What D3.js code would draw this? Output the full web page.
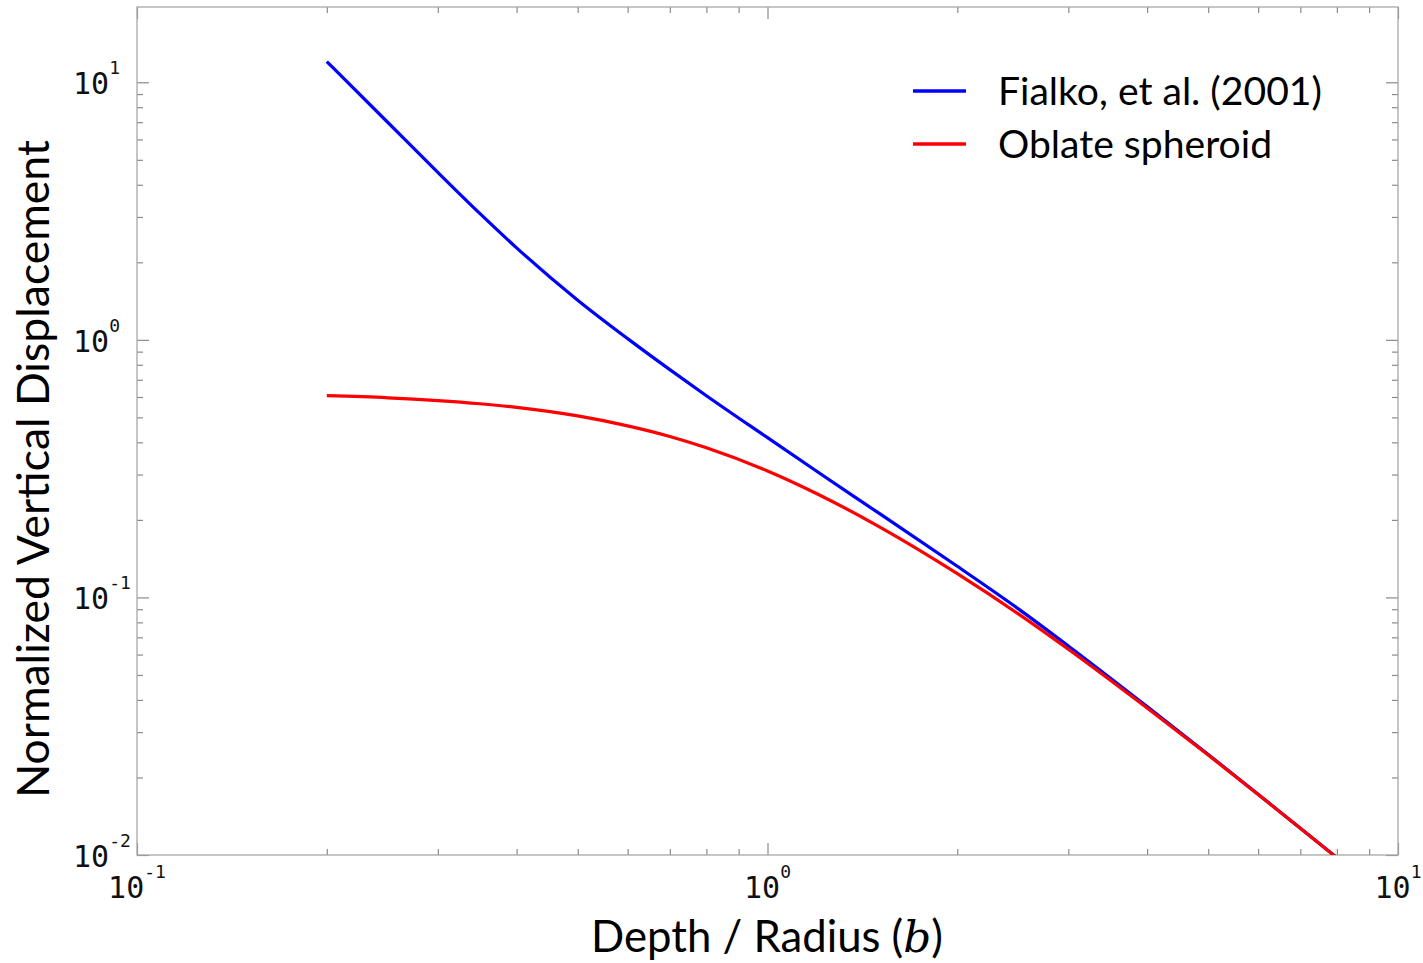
<!DOCTYPE html>
<html>
<head>
<meta charset="utf-8">
<script src="https://cdn.jsdelivr.net/npm/d3@7"></script>
<style>
  body { margin: 0; background: #fff; }
  svg { display: block; }
</style>
</head>
<body>
<svg id="chart" width="1423" height="963"></svg>
<script>
// Depth / radius ratio (b)
const depth  = [0.2, 0.25, 0.3, 0.35, 0.4, 0.5, 0.6, 0.7, 0.8, 1.0, 1.2, 1.5, 2, 2.5, 3, 4, 5, 6, 7, 8];
// Normalized vertical displacement, Fialko et al. (2001) solution
const fialko = [12.04, 6.98, 4.47, 3.09, 2.276, 1.426, 1.011, 0.766, 0.607, 0.417, 0.3075, 0.2128,
                0.1321, 0.0903, 0.0648, 0.0377, 0.02457, 0.01722, 0.01271, 0.00977];
// Normalized vertical displacement, oblate spheroid source
const oblate = [0.6071, 0.5958, 0.5811, 0.5648, 0.5469, 0.5066, 0.4636, 0.4217, 0.3812, 0.3098, 0.2522,
                0.1888, 0.1237, 0.0863, 0.0629, 0.0372, 0.02444, 0.01718, 0.01270, 0.00975];

const seriesNames  = ["Fialko, et al. (2001)", "Oblate spheroid"];
const seriesColors = ["#0000ff", "#ff0000"];

const xDomain = [0.1, 10];
const yDomain = [0.01, 19.6];
const xTickExponents = [-1, 0, 1];
const yTickExponents = [-2, -1, 0, 1];

const svg = d3.select("#chart");
const plot = { left: 137, right: 1398, top: 7, bottom: 855 };

const x = d3.scaleLog().domain(xDomain).range([plot.left, plot.right]);
const y = d3.scaleLog().domain(yDomain).range([plot.bottom, plot.top]);

const isMajor = v => Math.abs(Math.log10(v) - Math.round(Math.log10(v))) < 1e-9;
const xTicks = x.ticks();
const yTicks = y.ticks().filter(v => v <= yDomain[1]);
const xMajor = xTicks.filter(isMajor), xMinor = xTicks.filter(v => !isMajor(v));
const yMajor = yTicks.filter(isMajor), yMinor = yTicks.filter(v => !isMajor(v));

const tickColor = "#8a8a8a";
const MAJOR = 12, MINOR = 6;

// inward-pointing ticks on all four sides
function drawAxis(axisFn, scale, values, len, transform) {
  const g = svg.append("g")
    .attr("transform", transform)
    .call(axisFn(scale).tickValues(values).tickSize(-len).tickFormat(""));
  g.select(".domain").remove();
  g.selectAll(".tick line").attr("stroke", tickColor).attr("stroke-width", 1.2);
}
drawAxis(d3.axisBottom, x, xMajor, MAJOR, `translate(0,${plot.bottom})`);
drawAxis(d3.axisBottom, x, xMinor, MINOR, `translate(0,${plot.bottom})`);
drawAxis(d3.axisTop, x, xMajor, MAJOR, `translate(0,${plot.top})`);
drawAxis(d3.axisTop, x, xMinor, MINOR, `translate(0,${plot.top})`);
drawAxis(d3.axisLeft, y, yMajor, MAJOR, `translate(${plot.left},0)`);
drawAxis(d3.axisLeft, y, yMinor, MINOR, `translate(${plot.left},0)`);
drawAxis(d3.axisRight, y, yMajor, MAJOR, `translate(${plot.right},0)`);
drawAxis(d3.axisRight, y, yMinor, MINOR, `translate(${plot.right},0)`);

// frame
svg.append("rect")
  .attr("x", plot.left).attr("y", plot.top)
  .attr("width", plot.right - plot.left).attr("height", plot.bottom - plot.top)
  .attr("fill", "none").attr("stroke", "#a8a8a8").attr("stroke-width", 1.3);

// power-of-ten tick labels
const monoFont = "'DejaVu Sans Mono', 'Liberation Mono', monospace";
function powerLabel(sel, e) {
  sel.append("tspan").text("10");
  sel.append("tspan").attr("font-size", 18).attr("dy", -20).text(String(e));
}
xTickExponents.forEach(e => {
  svg.append("text")
    .attr("x", x(Math.pow(10, e))).attr("y", 898)
    .attr("text-anchor", "middle")
    .attr("font-family", monoFont).attr("font-size", 30).attr("fill", "#111")
    .call(powerLabel, e);
});
yTickExponents.forEach(e => {
  svg.append("text")
    .attr("x", 73).attr("y", y(Math.pow(10, e)) + 12)
    .attr("font-family", monoFont).attr("font-size", 30).attr("fill", "#111")
    .call(powerLabel, e);
});

// curves, clipped to the axes box
svg.append("clipPath").attr("id", "plot-clip")
  .append("rect")
  .attr("x", plot.left).attr("y", plot.top)
  .attr("width", plot.right - plot.left).attr("height", plot.bottom - plot.top);

const line = d3.line()
  .x(d => x(d[0]))
  .y(d => y(d[1]))
  .curve(d3.curveMonotoneX);

const series = [d3.zip(depth, fialko), d3.zip(depth, oblate)];
svg.append("g").attr("clip-path", "url(#plot-clip)")
  .selectAll("path")
  .data(series)
  .join("path")
  .attr("d", line)
  .attr("fill", "none")
  .attr("stroke", (d, i) => seriesColors[i])
  .attr("stroke-width", 3.2)
  .attr("stroke-linejoin", "round");

// scale font size so the text spans a given width
function fitWidth(sel, target) {
  const w = sel.node().getComputedTextLength();
  const fs = parseFloat(sel.attr("font-size"));
  sel.attr("font-size", fs * target / w);
  return fs * target / w;
}
const sansFont = "Lato, 'Open Sans', 'Noto Sans', sans-serif";

// legend
const legend = svg.append("g");
const legendY = [91, 144];
const legendBase = [105, 158];
let legendSize = null;
seriesNames.forEach((name, i) => {
  legend.append("line")
    .attr("x1", 913).attr("x2", 966)
    .attr("y1", legendY[i]).attr("y2", legendY[i])
    .attr("stroke", seriesColors[i]).attr("stroke-width", 3.4);
  const t = legend.append("text")
    .attr("x", 998).attr("y", legendBase[i])
    .attr("font-family", sansFont).attr("font-size", 38).attr("fill", "#000")
    .text(name);
  if (i === 0) legendSize = fitWidth(t, 324);
  else t.attr("font-size", legendSize);
});

// axis titles
const xTitle = svg.append("text")
  .attr("x", 767).attr("y", 952)
  .attr("text-anchor", "middle")
  .attr("font-family", sansFont).attr("font-size", 40).attr("fill", "#000");
xTitle.append("tspan").text("Depth / Radius (");
xTitle.append("tspan")
  .attr("font-family", "'DejaVu Serif', 'Liberation Serif', serif")
  .attr("font-style", "italic").text("b");
xTitle.append("tspan").text(")");
fitWidth(xTitle, 352);

const yTitle = svg.append("text")
  .attr("transform", "translate(49,469) rotate(-90)")
  .attr("text-anchor", "middle")
  .attr("font-family", sansFont).attr("font-size", 40).attr("fill", "#000")
  .text("Normalized Vertical Displacement");
fitWidth(yTitle, 658);
</script>
</body>
</html>
